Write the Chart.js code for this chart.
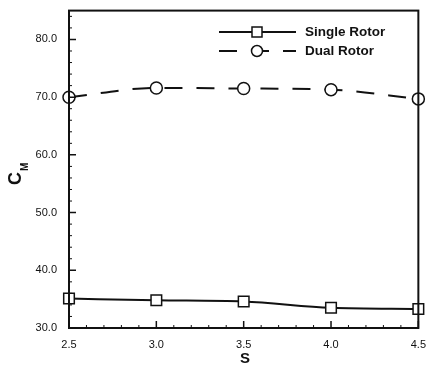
<!DOCTYPE html>
<html lang="en">
<head>
    <meta charset="UTF-8">
    <script src="https://cdn.jsdelivr.net/npm/chart.js"></script>
    <title>CM vs S</title>
    <style>
        body { margin: 0; background: #fff; }
        #wrap { width: 428px; height: 372px; }
    </style>
</head>
<body>
<div id="wrap"><canvas id="cmChart" width="428" height="372"></canvas></div>

<script>
    // values
    const sValues = [2.5, 3.0, 3.5, 4.0, 4.5];
    const singleRotor = [35.1, 34.8, 34.6, 33.5, 33.3];
    const dualRotor = [70.0, 71.6, 71.5, 71.3, 69.7];
    const seriesNames = ['Single Rotor', 'Dual Rotor'];
    const yTicks = [30, 40, 50, 60, 70, 80];
    const xTicks = [2.5, 3.0, 3.5, 4.0, 4.5];

    const ink = '#111';

    // frame, inward ticks, legend and axis titles
    const decor = {
        id: 'decor',
        afterDraw(chart) {
            const ctx = chart.ctx;
            const a = chart.chartArea;
            const x = chart.scales.x, y = chart.scales.y;
            ctx.save();
            ctx.strokeStyle = ink;
            ctx.lineWidth = 2;
            ctx.strokeRect(a.left, a.top, a.right - a.left, a.bottom - a.top);

            ctx.lineWidth = 1.5;
            ctx.beginPath();
            yTicks.forEach(v => {
                const py = y.getPixelForValue(v);
                ctx.moveTo(a.left, py); ctx.lineTo(a.left + 7, py);
            });
            xTicks.forEach(v => {
                const px = x.getPixelForValue(v);
                ctx.moveTo(px, a.bottom); ctx.lineTo(px, a.bottom - 7);
            });
            ctx.stroke();
            ctx.lineWidth = 1;
            ctx.beginPath();
            for (let v = 32; v < 85; v += 2) {
                if (v % 10 === 0) continue;
                const py = y.getPixelForValue(v);
                ctx.moveTo(a.left, py); ctx.lineTo(a.left + 3, py);
            }
            for (let i = 26; i < 45; i++) {
                if (i % 5 === 0) continue;
                const px = x.getPixelForValue(i / 10);
                ctx.moveTo(px, a.bottom); ctx.lineTo(px, a.bottom - 3);
            }
            ctx.stroke();

            // legend
            chart.data.datasets.forEach((ds, i) => {
                const ly = 32 + i * 19;
                ctx.strokeStyle = ink;
                ctx.lineWidth = 2;
                ctx.setLineDash(ds.borderDash || []);
                ctx.beginPath();
                ctx.moveTo(219, ly); ctx.lineTo(296, ly);
                ctx.stroke();
                ctx.setLineDash([]);
                ctx.fillStyle = '#fff';
                ctx.lineWidth = 1.5;
                ctx.beginPath();
                if (ds.pointStyle === 'rect') {
                    ctx.rect(252, ly - 5, 10, 10);
                } else {
                    ctx.arc(257, ly, 5.5, 0, Math.PI * 2);
                }
                ctx.fill(); ctx.stroke();
                ctx.fillStyle = ink;
                ctx.font = 'bold 13.5px "Liberation Sans", Arial, sans-serif';
                ctx.textBaseline = 'middle';
                ctx.textAlign = 'left';
                ctx.fillText(ds.label, 305, ly);
            });

            // x title
            ctx.font = 'bold 15px "Liberation Sans", Arial, sans-serif';
            ctx.textAlign = 'center';
            ctx.textBaseline = 'middle';
            ctx.fillText('S', 245, 359);

            // y title C_M
            ctx.translate(16, 172);
            ctx.rotate(-Math.PI / 2);
            ctx.font = 'bold 18px "Liberation Sans", Arial, sans-serif';
            ctx.textAlign = 'right';
            ctx.fillText('C', 0, 0);
            ctx.font = 'bold 10px "Liberation Sans", Arial, sans-serif';
            ctx.textAlign = 'left';
            ctx.fillText('M', 1, 9);
            ctx.restore();
        }
    };

    new Chart(document.getElementById('cmChart'), {
        type: 'line',
        data: {
            datasets: [{
                label: seriesNames[0],
                data: sValues.map((s, i) => ({ x: s, y: singleRotor[i] })),
                borderColor: ink,
                borderWidth: 2,
                pointStyle: 'rect',
                pointRadius: 7.5,
                pointBorderWidth: 1.5,
                pointBackgroundColor: '#fff',
                pointBorderColor: ink,
                tension: 0.3,
                cubicInterpolationMode: 'monotone'
            }, {
                label: seriesNames[1],
                data: sValues.map((s, i) => ({ x: s, y: dualRotor[i] })),
                borderColor: ink,
                borderWidth: 2,
                borderDash: [18, 14],
                pointStyle: 'circle',
                pointRadius: 6,
                pointBorderWidth: 1.5,
                pointBackgroundColor: '#fff',
                pointBorderColor: ink,
                tension: 0.3,
                cubicInterpolationMode: 'monotone'
            }]
        },
        options: {
            responsive: false,
            animation: false,
            clip: false,
            layout: { padding: { top: 10, right: 9, left: 0, bottom: 0 } },
            plugins: { legend: { display: false }, tooltip: { enabled: false } },
            scales: {
                x: {
                    type: 'linear',
                    min: 2.5, max: 4.5,
                    afterBuildTicks: s => { s.ticks = xTicks.map(v => ({ value: v })); },
                    afterFit: s => { s.height = 44; },
                    grid: { display: false },
                    border: { display: false },
                    ticks: {
                        color: ink,
                        padding: 2,
                        maxRotation: 0,
                        font: { family: '"Liberation Sans", Arial, sans-serif', size: 11 },
                        callback: v => v.toFixed(1)
                    }
                },
                y: {
                    min: 30, max: 85,
                    afterBuildTicks: s => { s.ticks = yTicks.map(v => ({ value: v })); },
                    afterFit: s => { s.width = 69; },
                    grid: { display: false },
                    border: { display: false },
                    ticks: {
                        color: ink,
                        padding: 4,
                        font: { family: '"Liberation Sans", Arial, sans-serif', size: 11 },
                        callback: v => v.toFixed(1)
                    }
                }
            }
        },
        plugins: [decor]
    });
</script>
</body>
</html>
